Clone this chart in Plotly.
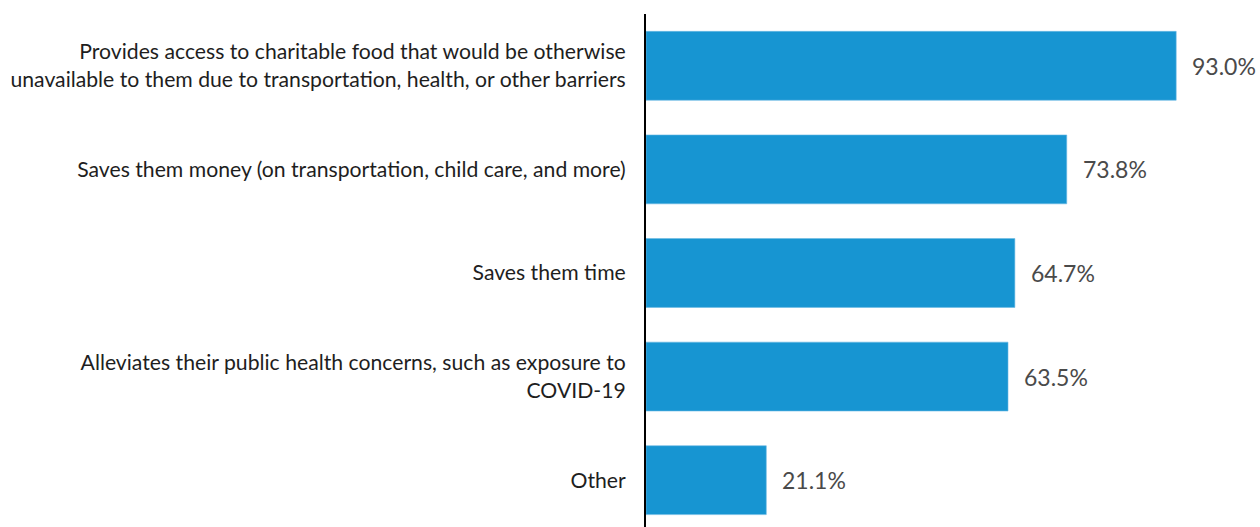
import plotly.graph_objects as go

categories = [
    "Provides access to charitable food that would be otherwise<br>unavailable to them due to transportation, health, or other barriers",
    "Saves them money (on transportation, child care, and more)",
    "Saves them time",
    "Alleviates their public health concerns, such as exposure to<br>COVID-19",
    "Other",
]
values = [93.0, 73.8, 64.7, 63.5, 21.1]
value_labels = ["93.0%", "73.8%", "64.7%", "63.5%", "21.1%"]

fig = go.Figure()
fig.add_trace(go.Bar(
    x=values,
    y=categories,
    orientation="h",
    width=0.665,
    marker=dict(color="#1795d2", line=dict(color="#6cbbe4", width=0.6)),
    hoverinfo="skip",
))

for cat, val, lab in zip(categories, values, value_labels):
    fig.add_annotation(
        x=val, y=cat, text=lab, showarrow=False,
        xanchor="left", yanchor="middle", xshift=14,
        font=dict(family="Lato", size=23, color="#4a4a4a"),
    )

fig.update_layout(
    width=1260, height=527,
    margin=dict(l=646, r=0, t=14, b=0),
    paper_bgcolor="white", plot_bgcolor="white",
    showlegend=False,
    font=dict(family="Lato", size=21, color="#222222"),
    xaxis=dict(range=[0, 107.7], showgrid=False, zeroline=False,
               showticklabels=False, showline=False),
    yaxis=dict(type="category", categoryorder="array", categoryarray=categories,
               range=[4.452, -0.5], showgrid=False, zeroline=False,
               showline=True, linecolor="black", linewidth=2,
               ticks="", ticklabelstandoff=14,
               tickfont=dict(family="Lato", size=21.2, color="#1e1e1e")),
)

fig.write_html("out.html")
